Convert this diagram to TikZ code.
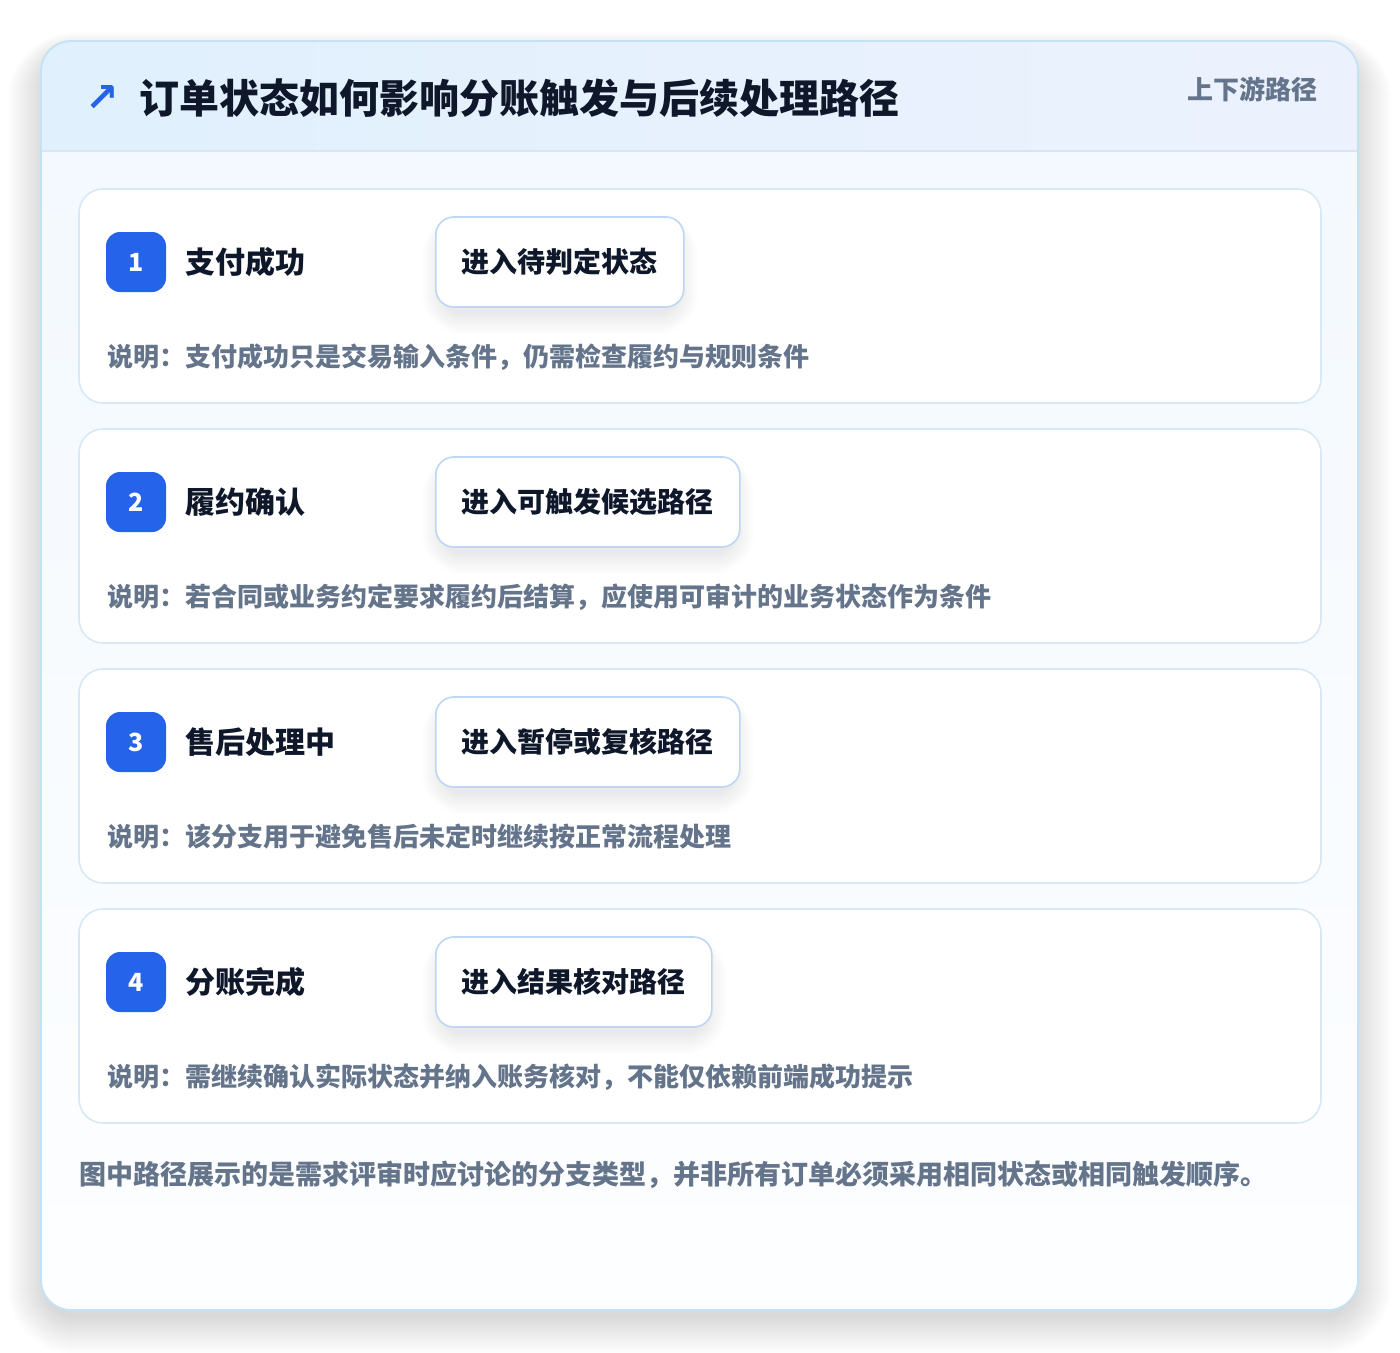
\documentclass[tikz,border=0pt]{standalone}
\usepackage{fontspec}
\setmainfont{Noto Sans CJK SC}
\newfontfamily\symfont{DejaVu Sans}
\definecolor{cardborder}{HTML}{C5E2F5}
\definecolor{hdrA}{HTML}{E0F0FD}
\definecolor{hdrB}{HTML}{ECF2FD}
\definecolor{hdrline}{HTML}{D6E6F8}
\definecolor{bodyA}{HTML}{F2F8FE}
\definecolor{bodyB}{HTML}{FDFEFF}
\definecolor{stepborder}{HTML}{D8E8F7}
\definecolor{boxborder}{HTML}{BDD6F1}
\definecolor{badgeblue}{HTML}{2563EB}
\definecolor{titlecol}{HTML}{0F172A}
\definecolor{muted}{HTML}{64748B}
\definecolor{shadowcol}{HTML}{1E293B}
\tikzset{
  stepcard/.style={draw=stepborder, line width=1.6pt, fill=white, rounded corners=24pt},
  badge/.style={fill=badgeblue, rounded corners=14pt, minimum width=60pt, minimum height=60pt, inner sep=0pt, text=white, font=\bfseries\fontsize{25}{28}\selectfont},
  steplabel/.style={anchor=west, inner sep=0pt, text=titlecol, font=\bfseries\fontsize{30}{36}\selectfont},
  statebox/.style={draw=boxborder, line width=1.6pt, fill=white, rounded corners=18pt, minimum height=90pt, inner xsep=26pt, inner ysep=0pt, text=titlecol, font=\bfseries\fontsize{28}{34}\selectfont},
  desc/.style={anchor=west, inner sep=0pt, text=muted, font=\bfseries\fontsize{26}{32}\selectfont},
}
% soft shadow: #1,#2 corners, #3 radius, #4 steps, #5 yshift, #6 opacity per step
\newcommand{\softshadow}[6]{%
  \foreach \k in {1,...,#4}{%
    \fill[shadowcol, opacity=#6, rounded corners=#3+\k*1pt, yshift=-#5]
      ($#1+(-\k,-\k*0.6)$) rectangle ($#2+(\k,\k)$);
  }%
}
\usetikzlibrary{calc}
\begin{document}
\begin{tikzpicture}[x=1pt, y=-1pt]
\useasboundingbox (0,0) rectangle (1400,1352);
\fill[white] (0,0) rectangle (1400,1352);
% outer card shadow
\softshadow{(45,55)}{(1354,1316)}{30pt}{38}{0pt}{0.004}
\fill[white, rounded corners=30pt] (41,41) rectangle (1358,1310);
\shade[rounded corners=30pt, top color=bodyA, bottom color=bodyB] (41,41) rectangle (1358,1310);
\begin{scope}
  \clip[rounded corners=30pt] (41,41) rectangle (1358,1310);
  \shade[left color=hdrA, right color=hdrB] (41,41) rectangle (1358,151);
  \draw[hdrline, line width=1.5pt] (41,151) -- (1358,151);
\end{scope}
\draw[cardborder, line width=1.8pt, rounded corners=30pt] (41,41) rectangle (1358,1310);
% header
\node[anchor=center, inner sep=0pt, text=badgeblue, font=\symfont\bfseries\fontsize{40}{44}\selectfont] (arrow) at (102,98) {↗};
\node[anchor=west, inner sep=0pt, text=titlecol, font=\bfseries\fontsize{40}{48}\selectfont] (title) at (139,98) {订单状态如何影响分账触发与后续处理路径};
\node[anchor=east, inner sep=0pt, text=muted, font=\bfseries\fontsize{26}{30}\selectfont] (tag) at (1318,89) {上下游路径};
% step cards
\path[stepcard] (79,189) rectangle (1321,403);
\path[stepcard] (79,429) rectangle (1321,643);
\path[stepcard] (79,669) rectangle (1321,883);
\path[stepcard] (79,909) rectangle (1321,1123);
% state box shadows
\softshadow{(444,228)}{(676,312)}{18pt}{22}{0pt}{0.0055}
\softshadow{(444,468)}{(732,552)}{18pt}{22}{0pt}{0.0055}
\softshadow{(444,708)}{(732,792)}{18pt}{22}{0pt}{0.0055}
\softshadow{(444,948)}{(704,1032)}{18pt}{22}{0pt}{0.0055}
% step 1
\node[badge] (b1) at (136,262) {1};
\node[steplabel] (l1) at (185,262) {支付成功};
\node[statebox, anchor=west] (s1) at (435,262) {进入待判定状态};
\node[desc] (d1) at (107,357) {说明：支付成功只是交易输入条件，仍需检查履约与规则条件};
% step 2
\node[badge] (b2) at (136,502) {2};
\node[steplabel] (l2) at (185,502) {履约确认};
\node[statebox, anchor=west] (s2) at (435,502) {进入可触发候选路径};
\node[desc] (d2) at (107,597) {说明：若合同或业务约定要求履约后结算，应使用可审计的业务状态作为条件};
% step 3
\node[badge] (b3) at (136,742) {3};
\node[steplabel] (l3) at (185,742) {售后处理中};
\node[statebox, anchor=west] (s3) at (435,742) {进入暂停或复核路径};
\node[desc] (d3) at (107,837) {说明：该分支用于避免售后未定时继续按正常流程处理};
% step 4
\node[badge] (b4) at (136,982) {4};
\node[steplabel] (l4) at (185,982) {分账完成};
\node[statebox, anchor=west] (s4) at (435,982) {进入结果核对路径};
\node[desc] (d4) at (107,1077) {说明：需继续确认实际状态并纳入账务核对，不能仅依赖前端成功提示};
% footer
\node[anchor=west, inner sep=0pt, text=muted, font=\bfseries\fontsize{27}{32}\selectfont] (foot) at (79,1175) {图中路径展示的是需求评审时应讨论的分支类型，并非所有订单必须采用相同状态或相同触发顺序。};
\end{tikzpicture}
\end{document}
